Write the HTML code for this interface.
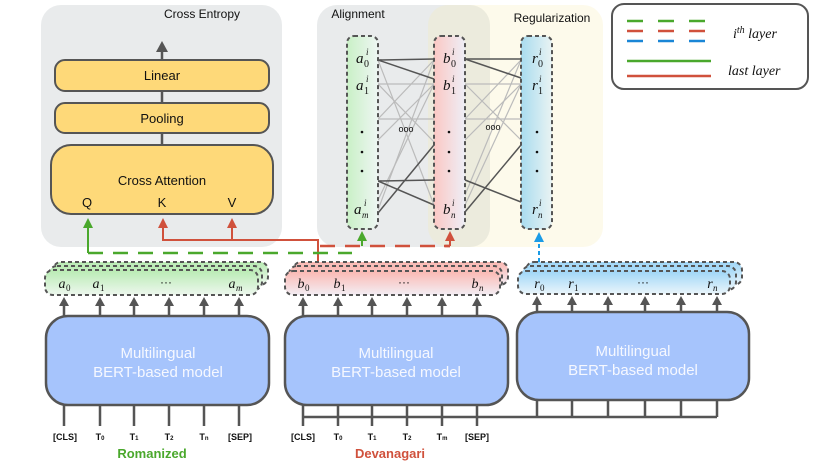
<!DOCTYPE html>
<html><head><meta charset="utf-8"><style>
body{margin:0;background:#fff}
svg{display:block}
.s{font-family:"Liberation Sans",sans-serif}
.m{font-family:"Liberation Serif",serif;font-style:italic}
.n{font-family:"Liberation Serif",serif}
</style></head><body>
<svg width="830" height="467" viewBox="0 0 830 467" xmlns="http://www.w3.org/2000/svg">
<defs>
<linearGradient id="gG" x1="0" x2="1"><stop offset="0" stop-color="#c9f0c6"/><stop offset="1" stop-color="#eef6f3"/></linearGradient>
<linearGradient id="gR" x1="0" x2="1"><stop offset="0" stop-color="#fbc8c4"/><stop offset="1" stop-color="#eeeef6"/></linearGradient>
<linearGradient id="gB" x1="0" x2="1"><stop offset="0" stop-color="#a9dcef"/><stop offset="1" stop-color="#e9f3f3"/></linearGradient>
<linearGradient id="hG" x1="0" y1="0" x2="0" y2="1"><stop offset="0" stop-color="#b9ebb3"/><stop offset="1" stop-color="#edf7ee"/></linearGradient>
<linearGradient id="hR" x1="0" y1="0" x2="0" y2="1"><stop offset="0" stop-color="#fbb8b2"/><stop offset="1" stop-color="#f3eef4"/></linearGradient>
<linearGradient id="hB" x1="0" y1="0" x2="0" y2="1"><stop offset="0" stop-color="#9fd6f7"/><stop offset="1" stop-color="#eaf5fb"/></linearGradient>
</defs>

<rect x="41" y="5" width="241" height="242" rx="20" fill="#e9ebec"/>
<rect x="317" y="5" width="173" height="242" rx="20" fill="#e9ebec"/>
<rect x="428" y="5" width="175" height="242" rx="20" fill="#f8eab0" fill-opacity="0.25"/>
<text x="202" y="18" class="s" font-size="12" text-anchor="middle" fill="#111">Cross Entropy</text>
<text x="358" y="18" class="s" font-size="12" text-anchor="middle" fill="#111">Alignment</text>
<text x="552" y="22" class="s" font-size="12" text-anchor="middle" fill="#111">Regularization</text>

<line x1="162" y1="145" x2="162" y2="50" stroke="#555" stroke-width="2.5"/>
<path d="M162 41l-6 11h12z" fill="#555"/>
<rect x="55" y="60" width="214" height="31" rx="10" fill="#fed979" stroke="#555" stroke-width="2"/>
<rect x="55" y="103" width="214" height="30" rx="10" fill="#fed979" stroke="#555" stroke-width="2"/>
<rect x="51" y="145" width="222" height="69" rx="20" fill="#fed979" stroke="#555" stroke-width="2"/>
<g class="s" font-size="13" text-anchor="middle" fill="#111">
<text x="162" y="80">Linear</text><text x="162" y="123">Pooling</text>
<text x="162" y="185">Cross Attention</text>
<text x="87" y="207">Q</text><text x="162" y="207">K</text><text x="232" y="207">V</text>
</g>

<polyline points="163,228 163,240 318,240 318,262" fill="none" stroke="#d0513c" stroke-width="2"/>
<line x1="232" y1="240" x2="232" y2="228" stroke="#d0513c" stroke-width="2"/>
<path d="M163 218l-5 10h10z M232 218l-5 10h10z" fill="#d0513c"/>
<line x1="88" y1="253" x2="88" y2="228" stroke="#4aa82c" stroke-width="2"/>
<path d="M88 218l-5 10h10z" fill="#4aa82c"/>
<line x1="88" y1="253" x2="352" y2="253" stroke="#4aa82c" stroke-width="2.5" stroke-dasharray="15,10"/>
<line x1="362" y1="246" x2="362" y2="240" stroke="#4aa82c" stroke-width="2"/>
<path d="M362 231l-5 10h10z" fill="#4aa82c"/>
<line x1="320" y1="246" x2="450" y2="246" stroke="#d0513c" stroke-width="2.5" stroke-dasharray="15,10"/>
<line x1="444" y1="246" x2="450" y2="246" stroke="#d0513c" stroke-width="2.5"/>
<line x1="450" y1="246" x2="450" y2="240" stroke="#d0513c" stroke-width="2"/>
<path d="M450 231l-5 10h10z" fill="#d0513c"/>
<line x1="539" y1="262" x2="539" y2="241" stroke="#1a9be6" stroke-width="2" stroke-dasharray="4,3"/>
<path d="M539 232l-5 10h10z" fill="#1a9be6"/>

<g stroke="#bbb" stroke-width="1.2">
<line x1="378" y1="60" x2="434" y2="205"/><line x1="378" y1="84" x2="434" y2="84"/><line x1="378" y1="84" x2="434" y2="142"/>
<line x1="378" y1="119" x2="434" y2="119"/><line x1="378" y1="119" x2="434" y2="60"/><line x1="378" y1="140" x2="434" y2="84"/>
<line x1="378" y1="210" x2="434" y2="60"/><line x1="378" y1="200" x2="434" y2="84"/>
<line x1="465" y1="84" x2="521" y2="84"/><line x1="465" y1="84" x2="521" y2="140"/><line x1="465" y1="119" x2="521" y2="119"/>
<line x1="465" y1="119" x2="521" y2="60"/><line x1="465" y1="140" x2="521" y2="84"/><line x1="465" y1="205" x2="521" y2="84"/><line x1="465" y1="195" x2="521" y2="60"/>
</g>
<g stroke="#555" stroke-width="1.5">
<line x1="378" y1="60" x2="434" y2="59"/><line x1="378" y1="60" x2="434" y2="79"/>
<line x1="378" y1="181" x2="434" y2="180"/><line x1="378" y1="181" x2="434" y2="205"/><line x1="378" y1="213" x2="434" y2="145"/>
<line x1="465" y1="59" x2="521" y2="59"/><line x1="465" y1="59" x2="521" y2="78"/>
<line x1="465" y1="180" x2="521" y2="202"/><line x1="465" y1="212" x2="521" y2="145"/>
</g>
<g class="s" font-size="9" fill="#111" text-anchor="middle"><text x="406" y="132">ooo</text><text x="493" y="130">ooo</text></g>

<rect x="347" y="36" width="31" height="193" rx="7" fill="url(#gG)" stroke="#555" stroke-width="2" stroke-dasharray="4,3"/>
<rect x="434" y="36" width="31" height="193" rx="7" fill="url(#gR)" stroke="#555" stroke-width="2" stroke-dasharray="4,3"/>
<rect x="521" y="36" width="31" height="193" rx="7" fill="url(#gB)" stroke="#555" stroke-width="2" stroke-dasharray="4,3"/>
<g class="m" font-size="15" fill="#111">
<text x="356" y="63">a</text><text x="356" y="90">a</text><text x="354" y="214">a</text>
<text x="443" y="63">b</text><text x="443" y="90">b</text><text x="443" y="214">b</text>
<text x="532" y="63">r</text><text x="532" y="90">r</text><text x="532" y="214">r</text>
</g>
<g class="m" font-size="9" fill="#111">
<text x="366" y="55">i</text><text x="366" y="82">i</text><text x="364" y="206">i</text>
<text x="452" y="55">i</text><text x="452" y="82">i</text><text x="452" y="206">i</text>
<text x="539" y="55">i</text><text x="539" y="82">i</text><text x="539" y="206">i</text>
<text x="362" y="218">m</text><text x="451" y="218">n</text><text x="538" y="218">n</text>
</g>
<g class="n" font-size="10" fill="#111">
<text x="364" y="67">0</text><text x="364" y="94">1</text>
<text x="451" y="67">0</text><text x="451" y="94">1</text>
<text x="538" y="67">0</text><text x="538" y="94">1</text>
</g>
<g fill="#111">
<circle cx="362" cy="132" r="1.3"/><circle cx="362" cy="152" r="1.3"/><circle cx="362" cy="171" r="1.3"/>
<circle cx="449" cy="132" r="1.3"/><circle cx="449" cy="152" r="1.3"/><circle cx="449" cy="171" r="1.3"/>
<circle cx="537" cy="132" r="1.3"/><circle cx="537" cy="152" r="1.3"/><circle cx="537" cy="171" r="1.3"/>
</g>

<rect x="612" y="4" width="196" height="85" rx="12" fill="#fff" stroke="#555" stroke-width="2"/>
<g stroke-width="2.5">
<path d="M627 21h16M658 21h16M689 21h16" stroke="#4aa82c"/>
<path d="M627 31h16M658 31h16M689 31h16" stroke="#d0513c"/>
<path d="M627 41h16M658 41h16M689 41h16" stroke="#1a86d6"/>
<path d="M627 61h84" stroke="#4aa82c"/><path d="M627 76h84" stroke="#d0513c"/>
</g>
<text x="733" y="38" class="m" font-size="14" fill="#111">i<tspan font-size="10" dy="-5">th</tspan><tspan dy="5"> layer</tspan></text>
<text x="728" y="75" class="m" font-size="14" fill="#111">last layer</text>

<g stroke="#555" stroke-width="2" stroke-dasharray="4,3">
<rect x="53" y="262" width="215" height="23" rx="8" fill="url(#hG)"/>
<rect x="49" y="266" width="213" height="24" rx="8" fill="url(#hG)"/>
<rect x="45" y="270" width="213" height="25" rx="8" fill="url(#hG)"/>
<rect x="293" y="262" width="215" height="23" rx="8" fill="url(#hR)"/>
<rect x="289" y="266" width="213" height="24" rx="8" fill="url(#hR)"/>
<rect x="285" y="271" width="215" height="24" rx="8" fill="url(#hR)"/>
<rect x="526" y="262" width="216" height="23" rx="8" fill="url(#hB)"/>
<rect x="522" y="266" width="214" height="24" rx="8" fill="url(#hB)"/>
<rect x="518" y="271" width="212" height="23" rx="8" fill="url(#hB)"/>
</g>
<g class="m" font-size="14" fill="#111" text-anchor="middle">
<text x="62" y="288">a</text><text x="96" y="288">a</text><text x="232" y="288">a</text>
<text x="301" y="288">b</text><text x="337" y="288">b</text><text x="475" y="288">b</text>
<text x="537" y="288">r</text><text x="571" y="288">r</text><text x="710" y="288">r</text>
</g>
<g class="n" font-size="9" fill="#111">
<text x="66" y="291">0</text><text x="100" y="291">1</text>
<text x="305" y="291">0</text><text x="341" y="291">1</text>
<text x="540" y="291">0</text><text x="574" y="291">1</text>
</g>
<g class="m" font-size="9" fill="#111"><text x="236" y="291">m</text><text x="479" y="291">n</text><text x="713" y="291">n</text></g>
<g class="s" font-size="12" fill="#111" text-anchor="middle"><text x="166" y="286">···</text><text x="404" y="286">···</text><text x="643" y="286">···</text></g>

<g stroke="#555" stroke-width="2.5">
<path d="M64 316v-12M100 316v-12M134 316v-12M169 316v-12M204 316v-12M239 316v-12"/>
<path d="M303 316v-12M338 316v-12M372 316v-12M407 316v-12M442 316v-12M477 316v-12"/>
<path d="M537 312v-8M572 312v-8M608 312v-8M645 312v-8M681 312v-8M717 312v-8"/>
</g>
<g fill="#555">
<path d="M64 297l-5 9h10zM100 297l-5 9h10zM134 297l-5 9h10zM169 297l-5 9h10zM204 297l-5 9h10zM239 297l-5 9h10z"/>
<path d="M303 297l-5 9h10zM338 297l-5 9h10zM372 297l-5 9h10zM407 297l-5 9h10zM442 297l-5 9h10zM477 297l-5 9h10z"/>
<path d="M537 296l-5 9h10zM572 296l-5 9h10zM608 296l-5 9h10zM645 296l-5 9h10zM681 296l-5 9h10zM717 296l-5 9h10z"/>
</g>

<g stroke="#555" stroke-width="2.5">
<path d="M64 405v21M100 405v21M134 405v21M169 405v21M204 405v21M239 405v21"/>
<path d="M303 405v21M338 405v21M372 405v21M407 405v21M442 405v21M477 405v21"/>
<path d="M303 417H717M537 400v17M572 400v17M608 400v17M645 400v17M681 400v17M717 400v17"/>
</g>
<g stroke="#555" stroke-width="2.5" fill="#a6c4fc">
<rect x="46" y="316" width="223" height="89" rx="22"/>
<rect x="285" y="316" width="223" height="89" rx="22"/>
<rect x="517" y="312" width="232" height="88" rx="22"/>
</g>
<g class="s" font-size="15" fill="#f6f8ff" text-anchor="middle">
<text x="158" y="358">Multilingual</text><text x="158" y="377">BERT-based model</text>
<text x="396" y="358">Multilingual</text><text x="396" y="377">BERT-based model</text>
<text x="633" y="356">Multilingual</text><text x="633" y="375">BERT-based model</text>
</g>

<g class="s" font-size="9" font-weight="bold" fill="#111" text-anchor="middle">
<text x="65" y="440">[CLS]</text><text x="100" y="440">T<tspan font-size="6">0</tspan></text><text x="134" y="440">T<tspan font-size="6">1</tspan></text>
<text x="169" y="440">T<tspan font-size="6">2</tspan></text><text x="204" y="440">T<tspan font-size="6">n</tspan></text><text x="240" y="440">[SEP]</text>
<text x="303" y="440">[CLS]</text><text x="338" y="440">T<tspan font-size="6">0</tspan></text><text x="372" y="440">T<tspan font-size="6">1</tspan></text>
<text x="407" y="440">T<tspan font-size="6">2</tspan></text><text x="442" y="440">T<tspan font-size="6">m</tspan></text><text x="477" y="440">[SEP]</text>
</g>
<text x="152" y="458" class="s" font-size="13" font-weight="bold" fill="#4aa82c" text-anchor="middle">Romanized</text>
<text x="390" y="458" class="s" font-size="13" font-weight="bold" fill="#d0513c" text-anchor="middle">Devanagari</text>
</svg>
</body></html>
